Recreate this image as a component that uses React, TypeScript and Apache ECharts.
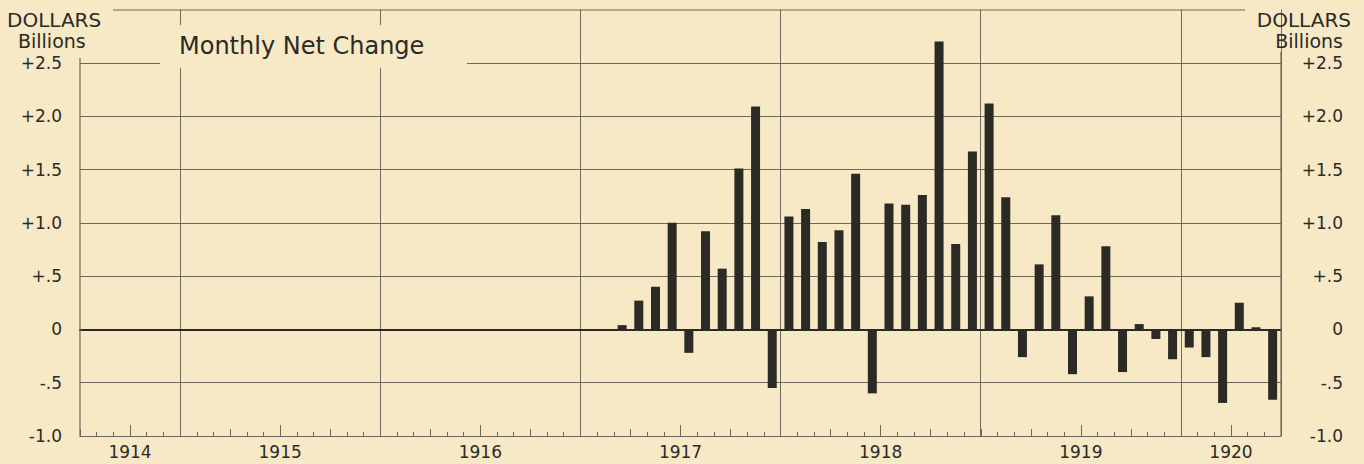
import React, { useEffect, useRef } from "react";
import * as echarts from "echarts";

// Months shown: July 1914 through June 1920
const monthNames = ["Jan", "Feb", "Mar", "Apr", "May", "Jun", "Jul", "Aug", "Sep", "Oct", "Nov", "Dec"];
const months1914 = ["Jul", "Aug", "Sep", "Oct", "Nov", "Dec"].map((m) => m + " 1914");
const monthsFull = [1915, 1916, 1917, 1918, 1919].flatMap((y) => monthNames.map((m) => m + " " + y));
const months1920 = ["Jan", "Feb", "Mar", "Apr", "May", "Jun"].map((m) => m + " 1920");
const monthCategories = [...months1914, ...monthsFull, ...months1920];

// Monthly net change, billions of dollars
const change1914 = [0, 0, 0, 0, 0, 0];
const change1915 = [0, 0, 0, 0, 0, 0, 0, 0, 0, 0, 0, 0];
const change1916 = [0, 0, 0, 0, 0, 0, 0, 0, 0, 0, 0, 0];
const change1917 = [0, 0, 0.04, 0.27, 0.4, 1.0, -0.22, 0.92, 0.57, 1.51, 2.09, -0.55];
const change1918 = [1.06, 1.13, 0.82, 0.93, 1.46, -0.6, 1.18, 1.17, 1.26, 2.7, 0.8, 1.67];
const change1919 = [2.12, 1.24, -0.26, 0.61, 1.07, -0.42, 0.31, 0.78, -0.4, 0.05, -0.09, -0.28];
const change1920 = [-0.17, -0.26, -0.69, 0.25, 0.02, -0.66];
const monthlyChange = [...change1914, ...change1915, ...change1916, ...change1917, ...change1918, ...change1919, ...change1920];

// Year labels and their positions (in months from July 1914)
const yearLabels = ["1914", "1915", "1916", "1917", "1918", "1919", "1920"];
const yearLabelPos = [3, 12, 24, 36, 48, 60, 69];

// Y tick labels
const yTickValues = [-1, -0.5, 0, 0.5, 1, 1.5, 2, 2.5];
const yTickLabels = ["-1.0", "-.5", "0", "+.5", "+1.0", "+1.5", "+2.0", "+2.5"];

const BG = "#f7e8c6";
const INK = "#2b2a25";
const GRID = "#6e685a";
const FONT = "'DejaVu Sans', sans-serif";

const yFmt = (v: number) => {
  const i = yTickValues.findIndex((t) => Math.abs(t - v) < 1e-6);
  return i >= 0 ? yTickLabels[i] : "";
};
const xFmt = (v: number) => {
  const i = yearLabelPos.findIndex((p) => Math.abs(p - v) < 1e-6);
  return i >= 0 ? yearLabels[i] : "";
};

export default function App() {
  const ref = useRef<HTMLDivElement>(null);
  useEffect(() => {
    if (!ref.current) return;
    const chart = echarts.init(ref.current, undefined, { renderer: "svg" });
    const left = 80;
    const right = 83;
    const bottom = 28;
    const top = 9.6;
    const labelText = { fontFamily: FONT, fontSize: 17, color: INK };
    chart.setOption({
      animation: false,
      backgroundColor: BG,
      grid: { left, right, top, bottom, containLabel: false },
      xAxis: [
        {
          type: "category",
          data: monthCategories,
          boundaryGap: true,
          axisLine: { show: true, onZero: true, lineStyle: { color: INK, width: 2 } },
          axisTick: { show: false },
          axisLabel: { show: false },
          splitLine: {
            show: true,
            interval: (i: number) => i % 12 === 6,
            lineStyle: { color: GRID, width: 1 },
          },
        },
        {
          type: "value",
          min: 0,
          max: 72,
          interval: 1,
          position: "bottom",
          axisLine: { show: true, onZero: false, lineStyle: { color: GRID, width: 1.2 } },
          axisTick: { show: true, inside: true, length: 4, lineStyle: { color: GRID } },
          axisLabel: { show: false },
          splitLine: { show: false },
        },
        {
          type: "value",
          min: 0,
          max: 72,
          interval: 3,
          position: "bottom",
          axisLine: { show: false, onZero: false },
          axisTick: { show: true, inside: true, length: 7, lineStyle: { color: GRID } },
          axisLabel: { show: true, formatter: xFmt, margin: 7, ...labelText },
          splitLine: { show: false },
        },
        {
          type: "category",
          data: monthCategories,
          boundaryGap: true,
          position: "bottom",
          axisLine: { show: false, onZero: false },
          axisTick: {
            show: true,
            inside: true,
            length: 11,
            interval: (i: number) => yearLabelPos.includes(i),
            lineStyle: { color: GRID },
          },
          axisLabel: { show: false },
          splitLine: { show: false },
        },
      ],
      yAxis: [
        {
          type: "value",
          min: -1,
          max: 3,
          interval: 0.5,
          position: "left",
          axisLine: { show: false },
          axisTick: { show: false },
          axisLabel: { formatter: yFmt, margin: 18, ...labelText },
          splitLine: { show: true, showMaxLine: false, lineStyle: { color: GRID, width: 1 } },
        },
        {
          type: "value",
          min: -1,
          max: 3,
          interval: 0.5,
          position: "right",
          axisLine: { show: false },
          axisTick: { show: false },
          axisLabel: { formatter: yFmt, margin: 62, align: "right", ...labelText },
          splitLine: { show: false },
        },
      ],
      series: [
        {
          type: "bar",
          xAxisIndex: 0,
          yAxisIndex: 0,
          data: monthlyChange,
          barWidth: 9,
          itemStyle: { color: INK },
          z: 5,
        },
      ],
      graphic: [
        { type: "line", z: 50, shape: { x1: 113, y1: 10, x2: 1245, y2: 10 }, style: { stroke: GRID, lineWidth: 1.2 } },
        { type: "line", z: 50, shape: { x1: 80, y1: 58, x2: 80, y2: 436 }, style: { stroke: GRID, lineWidth: 1.2 } },
        { type: "line", z: 50, shape: { x1: 1281, y1: 52, x2: 1281, y2: 436 }, style: { stroke: GRID, lineWidth: 1.2 } },
        { type: "rect", z: 60, shape: { x: 160, y: 25, width: 307, height: 43 }, style: { fill: BG } },
        {
          type: "text",
          z: 70,
          x: 179,
          y: 46,
          style: { text: "Monthly Net Change", font: `24px ${FONT}`, fill: INK, verticalAlign: "middle", align: "left" },
        },
        {
          type: "text",
          z: 70,
          x: 7,
          y: 20,
          style: { text: "DOLLARS", font: `20px ${FONT}`, fill: INK, verticalAlign: "middle", align: "left" },
        },
        {
          type: "text",
          z: 70,
          x: 18,
          y: 41,
          style: { text: "Billions", font: `19px ${FONT}`, fill: INK, verticalAlign: "middle", align: "left" },
        },
        {
          type: "text",
          z: 70,
          x: 1351,
          y: 20,
          style: { text: "DOLLARS", font: `20px ${FONT}`, fill: INK, verticalAlign: "middle", align: "right" },
        },
        {
          type: "text",
          z: 70,
          x: 1343,
          y: 41,
          style: { text: "Billions", font: `19px ${FONT}`, fill: INK, verticalAlign: "middle", align: "right" },
        },
      ],
    });
    return () => chart.dispose();
  }, []);
  return (
    <div
      ref={ref}
      style={{ position: "absolute", left: 0, top: 0, width: 1364, height: 464, background: BG }}
    />
  );
}
